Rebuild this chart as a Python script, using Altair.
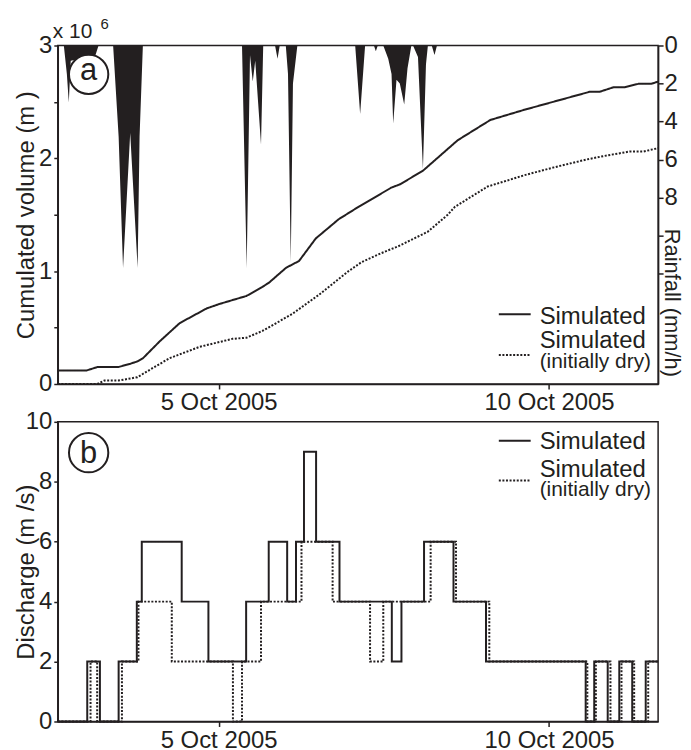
import altair as alt
import pandas as pd

FONT = "Liberation Sans"
INK = "#231f20"

# time in hours since 2005-10-02 00:00
x_domain = [13.6, 231.6]
tick_hours = [72, 192]
tick_labels = ["5 Oct 2005", "10 Oct 2005"]

# panel a: cumulated volume (x 10^6 m3)
vol_sim_t = [13.6, 24.1, 28.0, 35.6, 40.0, 42.5, 44.6, 50.7, 57.9, 67.7, 72.4, 82.1, 87.9, 90.4,
             96.5, 101.2, 107.3, 115.6, 122.8, 134.7, 137.9, 146.2, 158.8, 170.7, 183.0, 194.9,
             206.8, 210.4, 215.4, 219.4, 224.4, 229.1, 231.6]
vol_sim_v = [0.12, 0.12, 0.15, 0.15, 0.18, 0.20, 0.23, 0.38, 0.54, 0.67, 0.71, 0.78, 0.86, 0.90,
             1.03, 1.09, 1.29, 1.46, 1.57, 1.74, 1.77, 1.89, 2.16, 2.34, 2.43, 2.51,
             2.59, 2.59, 2.63, 2.63, 2.66, 2.66, 2.68]
vol_dry_t = [13.6, 28.0, 30.5, 35.6, 42.5, 48.0, 54.3, 65.2, 77.0, 82.1, 87.9, 98.7, 108.4, 115.6,
             119.2, 123.9, 131.1, 137.2, 148.0, 155.2, 157.8, 169.7, 183.0, 193.8, 205.7, 211.8,
             221.2, 226.2, 231.6]
vol_dry_v = [0.0, 0.0, 0.03, 0.03, 0.06, 0.14, 0.23, 0.33, 0.40, 0.41, 0.47, 0.62, 0.79, 0.93,
             1.00, 1.08, 1.16, 1.22, 1.35, 1.50, 1.57, 1.75, 1.85, 1.92, 1.99, 2.02,
             2.06, 2.06, 2.09]

# rainfall (mm/h)
rain_t = [13.6, 15.8, 16.9, 17.6, 18.3, 21.9, 23.7, 24.4, 25.5, 27.3, 28.4, 33.7, 35.7, 37.3,
          39.9, 42.6, 43.3, 44.5, 80.5, 82.2, 83.4, 84.4, 85.3, 87.4, 88.2, 92.5, 93.4, 94.2,
          96.4, 97.2, 98.2, 99.0, 100.6, 121.6, 123.4, 125.2, 128.4, 129.1, 129.8, 131.8, 133.6,
          134.8, 135.4, 136.6, 137.8, 139.4, 140.6, 142.0, 142.6, 144.4, 146.2, 147.3, 148.0,
          149.4, 150.4, 151.3, 231.6]
rain_v = [0, 0, 1.5, 3.0, 0.8, 0.7, 1.2, 2.6, 0.8, 0.5, 0, 0, 4.8, 11.7,
          4.6, 11.7, 4.8, 0, 0, 11.7, 0.5, 1.9, 0.8, 5.2, 0, 0, 0.7, 0,
          0, 1.5, 11.4, 2.0, 0, 0, 3.6, 0, 0, 0.3, 0, 0, 0.7,
          1.5, 4.1, 1.8, 2.0, 3.1, 1.2, 0, 0, 0.6, 6.5, 1.0, 0,
          0, 0.5, 0, 0]

# panel b: discharge (m3/s), step series
q_sim_t = [13.6, 24.3, 28.9, 35.7, 42.3, 44.1, 58.6, 68.3, 82.0, 90.2, 96.9, 100.1, 103.0, 107.4,
           115.9, 134.9, 138.4, 146.6, 157.3, 169.1, 205.3, 208.4, 213.3, 217.5, 222.2, 227.1, 231.6]
q_sim_v = [0, 2, 0, 2, 4, 6, 4, 2, 4, 6, 4, 6, 9, 6,
           4, 2, 4, 6, 4, 2, 0, 2, 0, 2, 0, 2, 2]
q_dry_t = [13.6, 25.5, 27.9, 36.9, 42.9, 55.0, 77.2, 80.5, 87.4, 102.1, 113.4, 127.0, 131.8, 149.0,
           158.2, 170.3, 205.9, 209.0, 214.3, 218.3, 222.9, 228.0, 231.6]
q_dry_v = [0, 2, 0, 2, 4, 2, 0, 2, 4, 6, 4, 2, 4, 6,
           4, 2, 0, 2, 0, 2, 0, 2, 2]

series = ["Simulated", "Simulated (initially dry)"]
vol_ticks = [0, 0.5, 1, 1.5, 2, 2.5, 3]
rain_ticks = [0, 2, 4, 6, 8, 10, 12]
q_ticks = [0, 2, 4, 6, 8, 10]

W = 603
HA = 340
HB = 301
FS = 24

label_expr = "''"
for h, lab in reversed(list(zip(tick_hours, tick_labels))):
    label_expr = f"datum.value == {h} ? '{lab}' : " + label_expr

xenc = alt.X("t:Q", scale=alt.Scale(domain=x_domain, nice=False, zero=False),
             axis=alt.Axis(values=tick_hours, labelExpr=label_expr, title=None,
                           tickSize=5, labelPadding=2, labelFlush=False))

one = pd.DataFrame({"k": [0]})


def txt(s, x, y, size=FS, align="left"):
    return alt.Chart(one).mark_text(text=s, font=FONT, fontSize=size, color=INK, align=align,
                                    baseline="alphabetic").encode(x=alt.value(x), y=alt.value(y))


def rule(x1, x2, y, dash=None):
    kw = dict(color=INK, strokeWidth=2)
    if dash:
        kw["strokeDash"] = dash
    return alt.Chart(one).mark_rule(**kw).encode(x=alt.value(x1), x2=alt.value(x2), y=alt.value(y))


def badge(letter, cx, cy, ty):
    c = alt.Chart(one).mark_point(shape="circle", size=1560, filled=True, fill="white",
                                  fillOpacity=1, stroke=INK, strokeWidth=2, opacity=1).encode(
        x=alt.value(cx), y=alt.value(cy))
    t = txt(letter, cx, ty, size=31, align="center")
    return c + t


DOT = [2, 1.6]
dash_scale = alt.Scale(domain=series, range=[[1, 0], DOT])

# ---------- panel a ----------
rain_df = pd.DataFrame({"t": rain_t, "r": rain_v})
rain = alt.Chart(rain_df).mark_area(color=INK, interpolate="linear", opacity=1).encode(
    x=xenc,
    y=alt.Y("r:Q", scale=alt.Scale(domain=[0, 17.8], reverse=True, nice=False, zero=True),
            axis=alt.Axis(orient="right", values=rain_ticks,
                          labelExpr="datum.value <= 8 ? datum.label : ''",
                          title="Rainfall (mm/h)", titleAngle=90, titleBaseline="bottom",
                          titleFontSize=22, titleX=1, titleY=258, tickSize=5, labelPadding=1)),
)

vol_df = pd.concat([
    pd.DataFrame({"t": vol_sim_t, "v": vol_sim_v, "s": series[0]}),
    pd.DataFrame({"t": vol_dry_t, "v": vol_dry_v, "s": series[1]}),
])
vol = alt.Chart(vol_df).mark_line(color=INK, strokeWidth=2).encode(
    x=xenc,
    y=alt.Y("v:Q", scale=alt.Scale(domain=[0, 3], nice=False),
            axis=alt.Axis(values=vol_ticks,
                          labelExpr="datum.value % 1 == 0 ? format(datum.value, 'd') : ''",
                          title="Cumulated volume (m  )", titleAngle=270, titleBaseline="bottom",
                          titleX=-19, tickSize=4, labelPadding=2)),
    strokeDash=alt.StrokeDash("s:N", scale=dash_scale, legend=None),
)

deco_a = alt.layer(
    badge("a", 31, 29, 35),
    txt("x 10", -5, -8, size=21),
    txt("6", 43, -17, size=15),
    rule(443, 475, 270),
    txt("Simulated", 484, 280),
    rule(443, 475, 311, dash=DOT),
    txt("Simulated", 484, 304),
    txt("(initially dry)", 484, 324, size=21),
)

panel_a = alt.layer(rain, vol, deco_a).resolve_scale(y="independent").properties(width=W, height=HA)

# ---------- panel b ----------
q_df = pd.concat([
    pd.DataFrame({"t": q_sim_t, "q": q_sim_v, "s": series[0]}),
    pd.DataFrame({"t": q_dry_t, "q": q_dry_v, "s": series[1]}),
])
q = alt.Chart(q_df).mark_line(color=INK, strokeWidth=2, interpolate="step-after").encode(
    x=xenc,
    y=alt.Y("q:Q", scale=alt.Scale(domain=[0, 10], nice=False),
            axis=alt.Axis(values=q_ticks, title="Discharge (m  /s)", titleAngle=270,
                          titleBaseline="bottom", titleX=-19, tickSize=4, labelPadding=2)),
    strokeDash=alt.StrokeDash("s:N", scale=dash_scale, legend=None),
)

deco_b = alt.layer(
    badge("b", 31, 31, 41),
    rule(443, 475, 19),
    txt("Simulated", 484, 27),
    rule(443, 475, 59, dash=DOT),
    txt("Simulated", 484, 55),
    txt("(initially dry)", 484, 75, size=21),
)

panel_b = alt.layer(q, deco_b).properties(width=W, height=HB)

chart = alt.vconcat(panel_a, panel_b, spacing=38, bounds="flush").properties(
    padding={"left": 6, "top": 6, "right": 0, "bottom": 0}
).configure_axis(
    labelFont=FONT, labelFontSize=FS, labelColor=INK,
    titleFont=FONT, titleFontSize=FS, titleFontWeight="normal", titleColor=INK,
    domainColor=INK, domainWidth=1.5, tickColor=INK, tickWidth=1.5, grid=False,
).configure_view(stroke=INK, strokeWidth=1.5)

chart.save("out.html", embed_options={"renderer": "svg", "actions": False})
